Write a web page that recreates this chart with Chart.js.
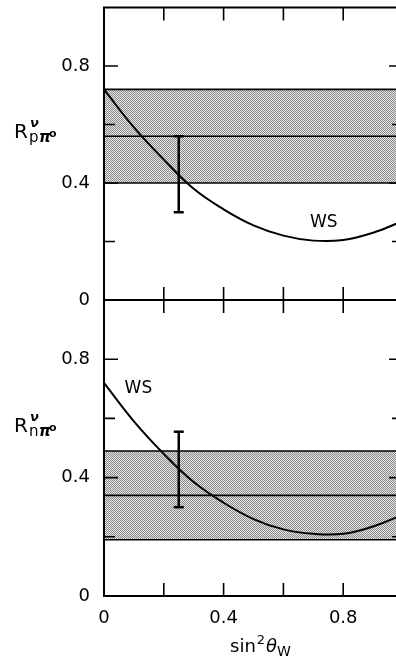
<!DOCTYPE html>
<html>
<head>
<meta charset="utf-8">
<script src="https://cdn.jsdelivr.net/npm/chart.js@4"></script>
<style>
  html, body { margin: 0; padding: 0; background: #fff; overflow: hidden; }
  #wrap { position: relative; width: 396px; height: 663px; overflow: hidden; }
  canvas { position: absolute; left: 0; }
  #top { top: 0; }
  #bot { top: 290px; }
</style>
</head>
<body>
<div id="wrap">
  <canvas id="top" width="420" height="310"></canvas>
  <canvas id="bot" width="420" height="373"></canvas>
</div>
<script>
// values
const sin2W = [0, 0.1, 0.2, 0.3, 0.4, 0.5, 0.6, 0.7, 0.8, 0.9, 1.0];
const wsP = [0.72, 0.59, 0.48, 0.38, 0.31, 0.255, 0.22, 0.203, 0.205, 0.23, 0.27];
const wsN = [0.72, 0.59, 0.48, 0.385, 0.315, 0.26, 0.225, 0.21, 0.21, 0.235, 0.275];

const bandP = [0.40, 0.56, 0.72]; // low, central, high
const bandN = [0.19, 0.34, 0.49];

const errX = 0.25;
const errP = [0.30, 0.56];
const errN = [0.30, 0.555];

const yLabels = ["0", "0.4", "0.8"];
const xLabels = ["0", "0.4", "0.8"];

const FONT = "'DejaVu Sans', 'Liberation Sans', sans-serif";

// stipple pattern for the bands
const pat = (() => {
  const c = document.createElement("canvas");
  c.width = 2; c.height = 2;
  const g = c.getContext("2d");
  g.fillStyle = "#e4e4e4"; g.fillRect(0, 0, 2, 2);
  g.fillStyle = "#8c8c8c"; g.fillRect(0, 0, 1, 1); g.fillRect(1, 1, 1, 1);
  return g.createPattern(c, "repeat");
})();

const hline = (v) => [{ x: 0, y: v }, { x: 1, y: v }];
const curve = (arr) => arr.map((y, i) => ({ x: sin2W[i], y }));

const fmt = (v) => {
  const s = v === 0 ? "0" : v.toFixed(1);
  return yLabels.includes(s) ? s : "";
};

// frame + inward ticks + labels
const framePlugin = {
  id: "frame",
  afterDraw(chart, args, opts) {
    const { ctx, chartArea: a, scales } = chart;
    ctx.save();
    ctx.strokeStyle = "#000";
    ctx.lineWidth = 2;
    ctx.strokeRect(a.left, a.top, a.right - a.left, a.bottom - a.top);
    ctx.lineWidth = 1.6;
    scales.x.ticks.forEach((t) => {
      if (t.value <= 0 || t.value >= 1) return;
      const px = scales.x.getPixelForValue(t.value);
      ctx.beginPath();
      ctx.moveTo(px, a.bottom); ctx.lineTo(px, a.bottom - 13);
      ctx.moveTo(px, a.top); ctx.lineTo(px, a.top + 13);
      ctx.stroke();
    });
    scales.y.ticks.forEach((t) => {
      if (t.value <= 0 || t.value >= 1) return;
      const py = scales.y.getPixelForValue(t.value);
      const len = fmt(t.value) ? 14 : 11;
      ctx.beginPath();
      ctx.moveTo(a.left, py); ctx.lineTo(a.left + len, py);
      ctx.moveTo(a.right, py); ctx.lineTo(a.right - len, py);
      ctx.stroke();
    });
    // y label R^nu_{x pi0}
    const yl = opts.ylab;
    ctx.fillStyle = "#000";
    ctx.textBaseline = "alphabetic";
    ctx.font = "20px " + FONT;
    ctx.fillText("R", 14, yl.y);
    ctx.font = "italic bold 13px " + FONT;
    ctx.fillText("ν", 30, yl.y - 11);
    ctx.font = "15px " + FONT;
    ctx.fillText(yl.sub, 29, yl.y + 4);
    ctx.font = "bold italic 15px " + FONT;
    ctx.fillText("π", 39, yl.y + 4);
    ctx.font = "bold 11px " + FONT;
    ctx.fillText("o", 49, yl.y - 1);
    // WS label
    ctx.font = "17px " + FONT;
    ctx.textAlign = "center";
    ctx.textBaseline = "middle";
    ctx.fillText("WS", scales.x.getPixelForValue(opts.ws[0]), scales.y.getPixelForValue(opts.ws[1]));
    // x title
    if (opts.xtitle) {
      ctx.textAlign = "left";
      ctx.textBaseline = "alphabetic";
      const by = opts.xtitle;
      let x = 230;
      ctx.font = "18px " + FONT;
      ctx.fillText("sin", x, by); x += ctx.measureText("sin").width + 1;
      ctx.font = "13px " + FONT;
      ctx.fillText("2", x, by - 8); x += ctx.measureText("2").width + 1;
      ctx.font = "italic 18px " + FONT;
      ctx.fillText("θ", x, by); x += ctx.measureText("θ").width;
      ctx.font = "14px " + FONT;
      ctx.fillText("W", x, by + 4);
    }
    ctx.restore();
  },
};

function makeChart(id, ws, band, err, opts) {
  const ctx = document.getElementById(id).getContext("2d");
  const line = { showLine: true, borderColor: "#000", borderWidth: 1.6, pointRadius: 0, order: 1 };
  return new Chart(ctx, {
    type: "scatter",
    plugins: [framePlugin],
    data: {
      datasets: [
        {
          data: hline(band[2]),
          showLine: true,
          fill: { value: band[0] },
          backgroundColor: pat,
          borderColor: "#000",
          borderWidth: 1.6,
          pointRadius: 0,
          order: 10,
        },
        { ...line, data: hline(band[0]) },
        { ...line, data: hline(band[1]) },
        { ...line, data: curve(ws), borderWidth: 2, tension: 0.4 },
        {
          data: err.map((y) => ({ x: errX, y })),
          showLine: true,
          borderColor: "#000",
          borderWidth: 2.5,
          pointStyle: "line",
          pointRadius: 5,
          pointBorderWidth: 2.5,
          pointBorderColor: "#000",
          order: 0,
        },
      ],
    },
    options: {
      responsive: false,
      animation: false,
      layout: { padding: opts.padding },
      plugins: {
        legend: { display: false },
        tooltip: { enabled: false },
        frame: opts.frame,
      },
      scales: {
        x: {
          type: "linear",
          min: 0,
          max: 1,
          display: opts.showX,
          grid: { display: false, drawTicks: false },
          border: { display: false },
          ticks: {
            stepSize: 0.2,
            padding: 12,
            color: "#000",
            font: { family: FONT, size: 18 },
            maxRotation: 0,
            autoSkip: false,
            callback: (v) => {
              const s = v === 0 ? "0" : v.toFixed(1);
              return xLabels.includes(s) ? s : "";
            },
          },
          afterFit: (s) => {
            s.height = opts.xHeight;
            s.paddingLeft = 0;
            s.paddingRight = 0;
          },
        },
        y: {
          min: 0,
          max: 1,
          grid: { display: false, drawTicks: false },
          border: { display: false },
          ticks: {
            stepSize: 0.2,
            padding: 14,
            color: "#000",
            font: { family: FONT, size: 18 },
            autoSkip: false,
            callback: (v) => fmt(v),
          },
          afterFit: (s) => {
            s.width = 104;
            s.paddingTop = 0;
            s.paddingBottom = 0;
          },
        },
      },
    },
  });
}

makeChart("top", wsP, bandP, errP, {
  padding: { top: 7, right: 17, bottom: 10, left: 0 },
  showX: false,
  xHeight: 0,
  frame: { ylab: { y: 138, sub: "p" }, ws: [0.735, 0.265] },
});

makeChart("bot", wsN, bandN, errN, {
  padding: { top: 10, right: 17, bottom: 0, left: 0 },
  showX: true,
  xHeight: 67,
  frame: { ylab: { y: 142, sub: "n" }, ws: [0.115, 0.70], xtitle: 362 },
});
</script>
</body>
</html>
